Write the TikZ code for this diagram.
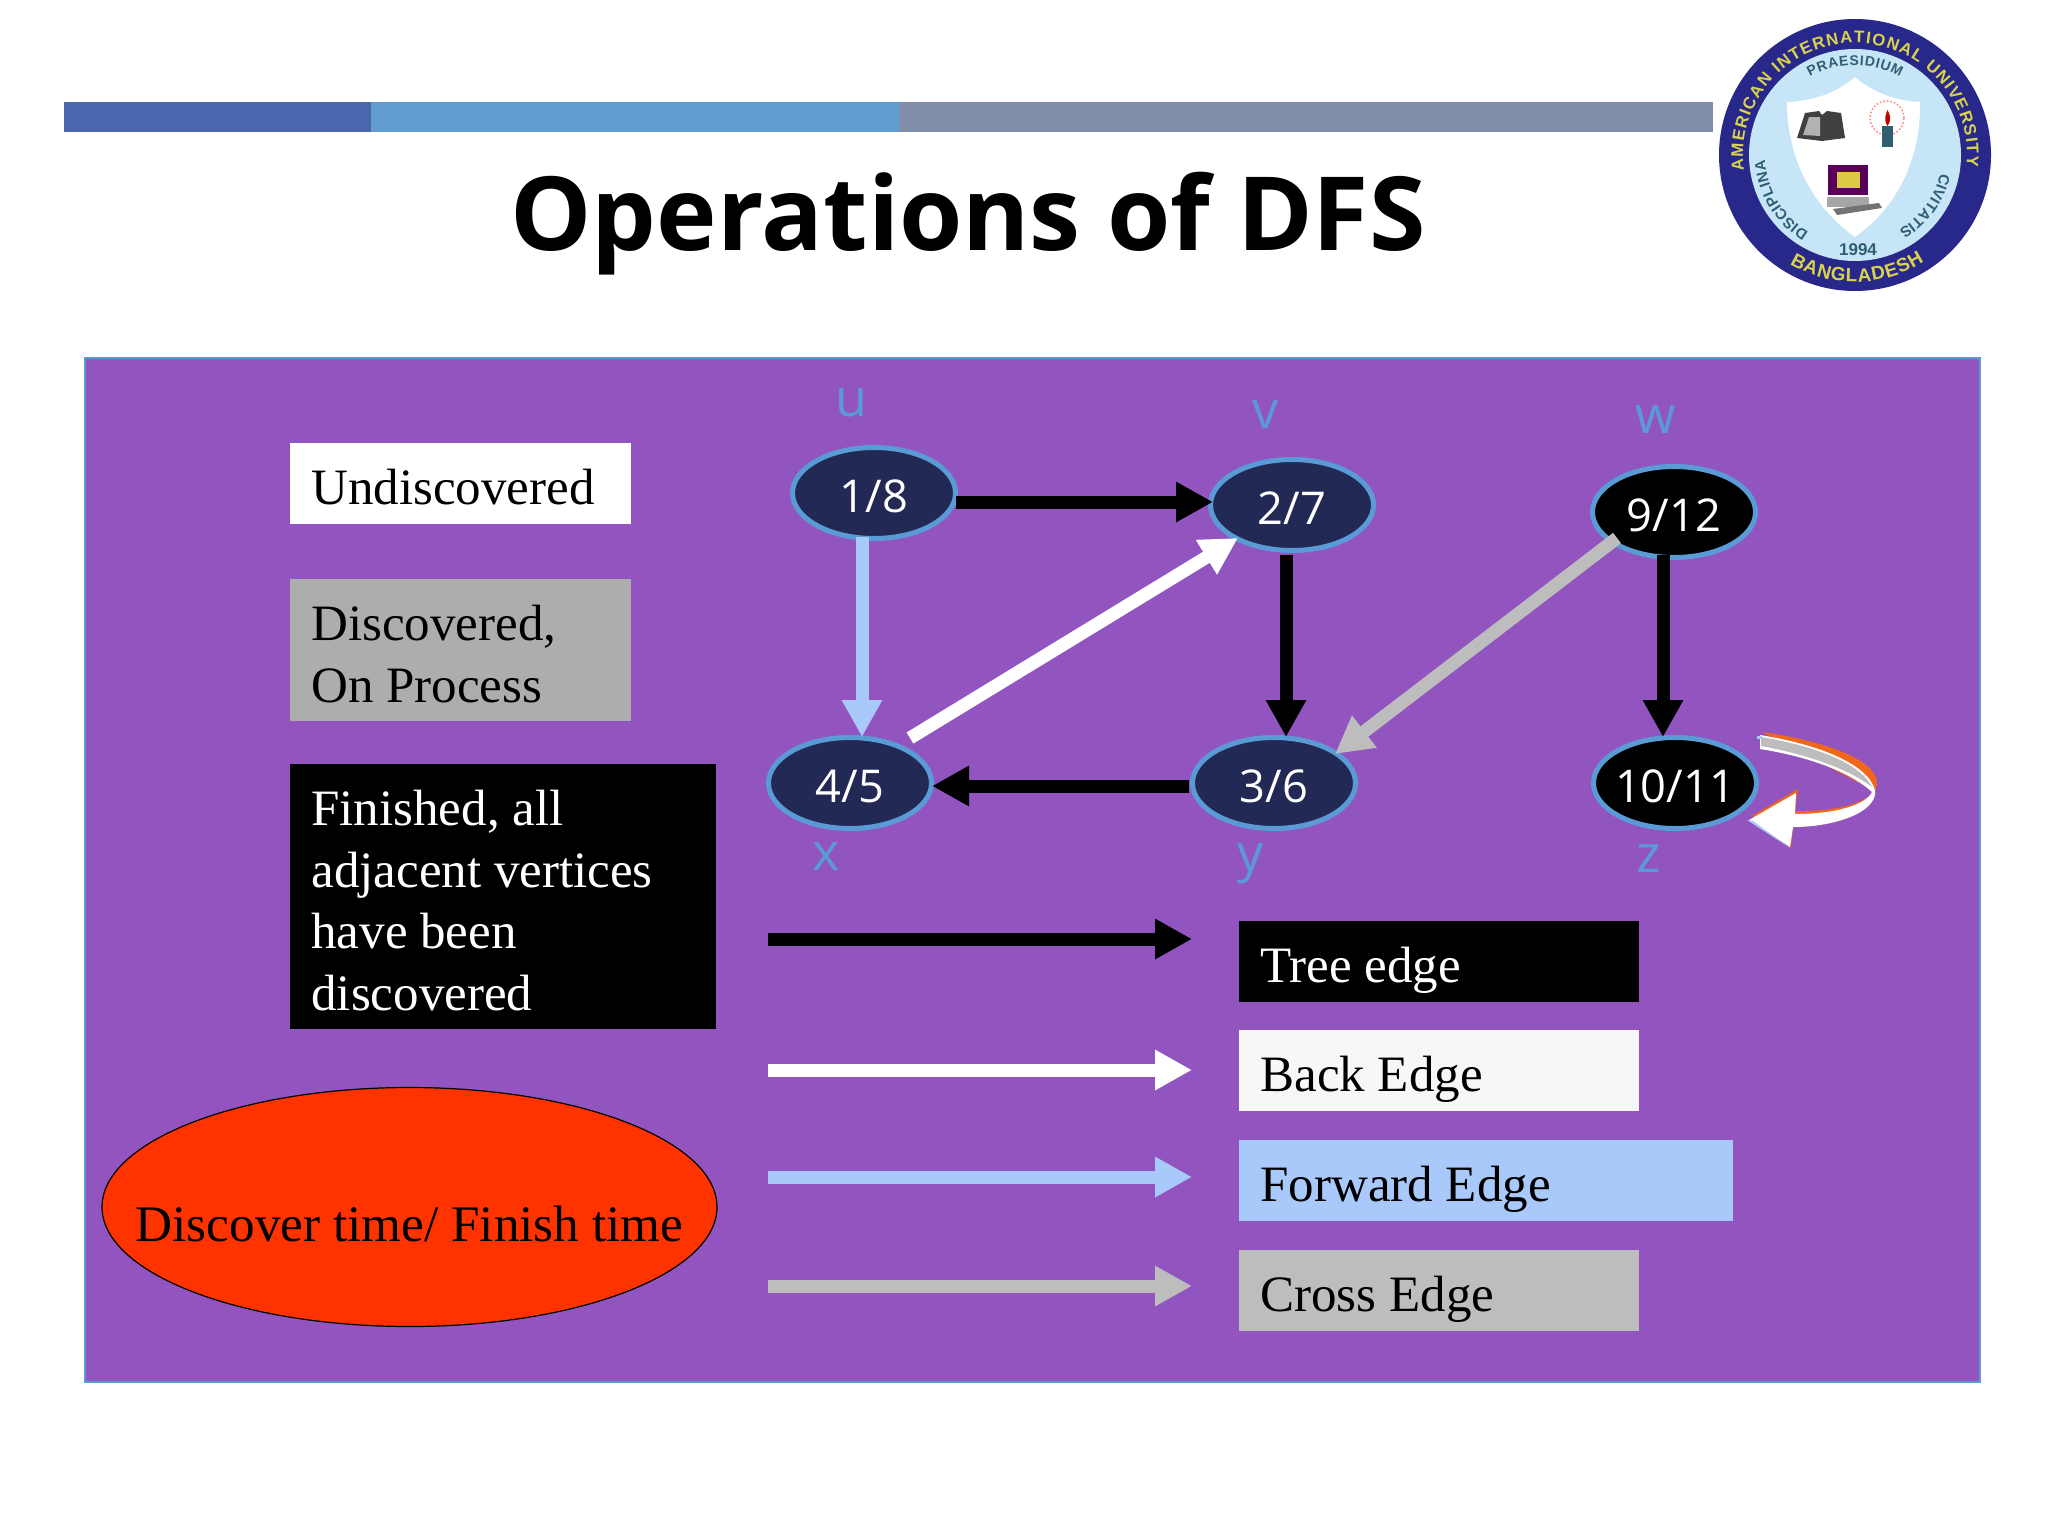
\documentclass[tikz,border=0pt]{standalone}
\usepackage{fontspec}
\setmainfont{Liberation Serif}
\newfontfamily\opensans{Open Sans}
\newfontfamily\logosans{Liberation Sans}
\usetikzlibrary{shapes.geometric,arrows.meta,decorations.text}
\definecolor{panel}{HTML}{9254BF}
\definecolor{nodeblue}{HTML}{222955}
\definecolor{rimblue}{HTML}{5B9BD5}
\definecolor{forwardc}{HTML}{A9C9FA}
\definecolor{crossc}{HTML}{BDBDBD}
\definecolor{barone}{HTML}{4A66AC}
\definecolor{bartwo}{HTML}{629DD1}
\definecolor{barthree}{HTML}{7F8FA9}
\definecolor{ringblue}{HTML}{28288A}
\definecolor{ringyellow}{HTML}{D8D24E}
\definecolor{logosky}{HTML}{C6E6F8}
\definecolor{logoteal}{HTML}{2F5F70}
\definecolor{loopedge}{HTML}{F0661A}
\tikzset{
  x=0.5pt,y=-0.5pt,
  vertex/.style={ellipse,draw=rimblue,line width=2.5pt,minimum width=81.5pt,minimum height=45.5pt,inner sep=-5pt,outer sep=0pt,text=white,text height=19.1pt,text depth=0pt,font=\opensans\fontsize{22.6}{26}\selectfont},
  vname/.style={text=rimblue,inner sep=0pt,font=\opensans\fontsize{26}{30}\selectfont},
  legendbox/.style={anchor=north west,inner sep=0pt,outer sep=0pt},
  legendtext/.style={anchor=west,inner sep=0pt,align=left,font=\fontsize{25.5}{30.7}\selectfont},
  edgeline/.style={line width=6.5pt,-{Triangle[length=18.5pt,width=19pt]}},
  ringtext/.style={decorate,decoration={text along path,text align=fit to path,text={#1}}},
}
\begin{document}
\begin{tikzpicture}
\useasboundingbox (0,0) rectangle (2048,1536);
\fill[white] (0,0) rectangle (2048,1536);
% header bars
\fill[barone] (64,102) rectangle (371,132);
\fill[bartwo] (371,102) rectangle (899,132);
\fill[barthree] (899,102) rectangle (1713,132);
\node[inner sep=0pt,font=\opensans\bfseries\fontsize{51.2}{60}\selectfont] (title) at (968,224) {Operations of DFS};
% panel
\draw[draw=rimblue,line width=0.6pt,fill=panel] (85,358) rectangle (1980,1382);
% logo
\begin{scope}[shift={(1855,155)},yscale=-1]
  \fill[ringblue] (0,0) circle[radius=136];
  \fill[logosky] (0,0) circle[radius=106];
  \fill[white] (0,78) .. controls (-18,62) and (-42,54) .. (-68,53) .. controls (-68,0) and (-45,-50) .. (0,-82) .. controls (45,-50) and (66,0) .. (65,53) .. controls (42,54) and (18,62) .. (0,78) -- cycle;
  % book
  \fill[black!75] (-58,17) -- (-50,42) -- (-36,44) -- (-33,40) -- (-28,44) -- (-14,42) -- (-10,17) -- (-33,14) -- cycle;
  \fill[black!30] (-52,20) -- (-46,38) -- (-35,38) -- (-35,19) -- cycle;
  % candle
  \draw[red!45,densely dotted,line width=0.8pt] (32,37) circle[radius=17];
  \fill[logoteal] (27,8) rectangle (38,29);
  \fill[red!75!black] (32.5,29) .. controls (28,36) and (31,40) .. (32.5,45) .. controls (35,40) and (37,36) .. (32.5,29) -- cycle;
  % computer
  \fill[black!35] (-28,-42) rectangle (14,-52);
  \fill[black!55] (-22,-54) -- (24,-48) -- (27,-53) -- (-18,-60) -- cycle;
  \fill[violet!70!black] (-27,-10) rectangle (13,-40);
  \fill[ringyellow!90!orange] (-18,-17) rectangle (5,-33);
  % ring and motto texts
  \path[ringtext={|\logosans\bfseries\fontsize{8.4}{9}\selectfont\color{ringyellow}|AMERICAN INTERNATIONAL UNIVERSITY}] (0,0) ++(188:112) arc[start angle=188,end angle=-6,radius=112];
  \path[ringtext={|\logosans\bfseries\fontsize{9.5}{10}\selectfont\color{ringyellow}|BANGLADESH}] (0,0) ++(239:127) arc[start angle=239,end angle=303,radius=127];
  \path[ringtext={|\logosans\bfseries\fontsize{7}{7}\selectfont\color{logoteal}|PRAESIDIUM}] (0,0) ++(120:90) arc[start angle=120,end angle=60,radius=90];
  \path[ringtext={|\logosans\bfseries\fontsize{7.5}{8}\selectfont\color{logoteal}|DISCIPLINA}] (0,0) ++(239:90) arc[start angle=239,end angle=183,radius=90];
  \path[ringtext={|\logosans\bfseries\fontsize{7.5}{8}\selectfont\color{logoteal}|CIVITATIS}] (0,0) ++(-12:87) arc[start angle=-12,end angle=-58,radius=87];
  \node[inner sep=0pt,text=logoteal,font=\logosans\bfseries\fontsize{8.5}{9}\selectfont] (year) at (3,-95) {1994};
\end{scope}
% state legend
\node[legendbox,fill=white,minimum width=170.5pt,minimum height=40.5pt] (undisc) at (290,443) {};
\node[legendtext,text=black] (undisctext) at ([shift={(21,4)}]undisc.west) {Undiscovered};
\node[legendbox,fill=black!32,minimum width=170.5pt,minimum height=71pt] (disc) at (290,579) {};
\node[legendtext,text=black] (disctext) at ([shift={(21,4)}]disc.west) {Discovered,\\On Process};
\node[legendbox,fill=black,minimum width=213pt,minimum height=132.5pt] (fin) at (290,764) {};
\node[legendtext,text=white] (fintext) at ([shift={(21,4)}]fin.west) {Finished, all\\adjacent vertices\\have been\\discovered};
\node[ellipse,draw=black,line width=0.6pt,fill={rgb,255:red,255;green,51;blue,0},minimum width=307.5pt,minimum height=119.5pt,inner sep=0pt] (times) at (409.5,1207) {};
\node[inner sep=0pt,font=\fontsize{25.6}{30}\selectfont] (timestext) at (409.5,1224) {Discover time/ Finish time};
% graph nodes
\node[vertex,fill=nodeblue] (n18) at (874,493) {1/8};
\node[vertex,fill=nodeblue] (n27) at (1292,505) {2/7};
\node[vertex,fill=black] (n912) at (1674,512) {9/12};
\node[vertex,fill=nodeblue] (n45) at (850,783) {4/5};
\node[vertex,fill=nodeblue] (n36) at (1274,783) {3/6};
\node[vertex,fill=black] (n1011) at (1675,783) {10/11};
\node[vname] (lu) at (851,403) {u};
\node[vname] (lv) at (1266,415) {v};
\node[vname] (lw) at (1656,420) {w};
\node[vname] (lx) at (826,857) {x};
\node[vname] (ly) at (1251,864) {y};
\node[vname] (lz) at (1649,859) {z};
% graph edges
\draw[edgeline,black] ([shift={(82,9)}]n18.center) -- ([shift={(-79,-3)}]n27.center);
\draw[edgeline,forwardc] ([shift={(-12,44)}]n18.center) -- ([shift={(12,-46)}]n45.center);
\draw[edgeline,white] ([shift={(60,-45)}]n45.center) -- ([shift={(-54,33)}]n27.center);
\draw[edgeline,black] ([shift={(-6,50)}]n27.center) -- ([shift={(12,-46)}]n36.center);
\draw[edgeline,black] ([shift={(-85,3)}]n36.center) -- ([shift={(82,3)}]n45.center);
\draw[edgeline,crossc] ([shift={(-57,26)}]n912.center) -- ([shift={(61,-29)}]n36.center);
\draw[edgeline,black] ([shift={(-11,43)}]n912.center) -- ([shift={(-12,-46)}]n1011.center);
% self loop on z
\fill[loopedge] (1762,732) .. controls (1825,741) and (1878,760) .. (1877,784) .. controls (1876,802) and (1835,812) .. (1795,811) -- (1798,789) -- (1752,816) -- (1791,848) -- (1793,827) .. controls (1830,827) and (1875,815) .. (1873,790) -- cycle;
\fill[white] (1760,735) .. controls (1822,745) and (1868,765) .. (1875,790) .. controls (1878,812) and (1835,827) .. (1793,827) -- (1790,847) -- (1749,820) -- (1796,793) -- (1795,814) .. controls (1835,814) and (1866,805) .. (1872,792) .. controls (1850,772) and (1810,757) .. (1760,749) -- cycle;
\fill[crossc] (1761,737) .. controls (1815,746) and (1860,763) .. (1872,787) .. controls (1850,770) and (1810,755) .. (1761,746) -- cycle;
\fill[forwardc] (1747,820) -- (1790,848) -- (1753,821) -- cycle;
\fill[forwardc] (1757,736) rectangle (1762,739);
% edge-type legend
\coordinate (ta) at (768,939); \coordinate (tb) at (1192,939);
\coordinate (ba) at (768,1070); \coordinate (bb) at (1192,1070);
\coordinate (fa) at (768,1177); \coordinate (fb) at (1192,1177);
\coordinate (ca) at (768,1286); \coordinate (cb) at (1192,1286);
\draw[edgeline,black] (ta) -- (tb);
\draw[edgeline,white] (ba) -- (bb);
\draw[edgeline,forwardc] (fa) -- (fb);
\draw[edgeline,crossc] (ca) -- (cb);
\node[legendbox,fill=black,minimum width=200pt,minimum height=40.5pt] (ltree) at (1239,921) {};
\node[legendtext,text=white] (ltreetext) at ([shift={(21,9)}]ltree.west) {Tree edge};
\node[legendbox,fill=black!3,minimum width=200pt,minimum height=40.5pt] (lback) at (1239,1030) {};
\node[legendtext,text=black] (lbacktext) at ([shift={(21,9)}]lback.west) {Back Edge};
\node[legendbox,fill=forwardc,minimum width=247pt,minimum height=40.5pt] (lforward) at (1239,1140) {};
\node[legendtext,text=black] (lforwardtext) at ([shift={(21,9)}]lforward.west) {Forward Edge};
\node[legendbox,fill=crossc,minimum width=200pt,minimum height=40.5pt] (lcross) at (1239,1250) {};
\node[legendtext,text=black] (lcrosstext) at ([shift={(21,9)}]lcross.west) {Cross Edge};
\end{tikzpicture}
\end{document}
